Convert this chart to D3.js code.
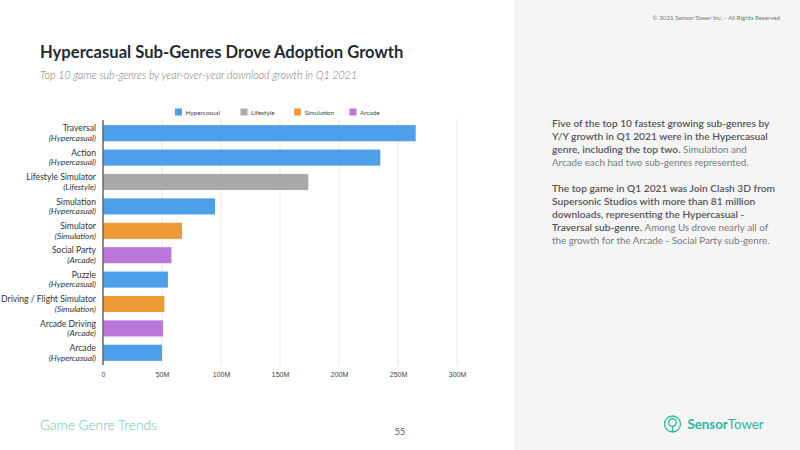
<!DOCTYPE html>
<html>
<head>
<meta charset="utf-8">
<script src="https://cdn.jsdelivr.net/npm/d3@7"></script>
<style>
  html, body { margin: 0; padding: 0; background: #fff; }
  svg { display: block; font-family: "Source Sans Pro", Lato, "Open Sans", sans-serif; }
</style>
</head>
<body>
<svg id="chart" width="800" height="450"></svg>
<script>
// sub-genres, top to bottom
const subGenres = ['Traversal', 'Action', 'Lifestyle Simulator', 'Simulation', 'Simulator',
  'Social Party', 'Puzzle', 'Driving / Flight Simulator', 'Arcade Driving', 'Arcade']
const genres = ['Hypercasual', 'Hypercasual', 'Lifestyle', 'Hypercasual', 'Simulation',
  'Arcade', 'Hypercasual', 'Simulation', 'Arcade', 'Hypercasual']
// Y/Y download growth, millions
const growth = [265, 235, 174, 95, 67, 58, 55, 52, 51, 50]
const legendGenres = ['Hypercasual', 'Lifestyle', 'Simulation', 'Arcade']
const xTicks = [0, 50, 100, 150, 200, 250, 300]

const colors = {
  Hypercasual: '#4c9fe8',
  Lifestyle: '#a9a9a9',
  Simulation: '#ee9a37',
  Arcade: '#bb77d9'
}

const data = subGenres.map((s, i) => ({ name: s, genre: genres[i], value: growth[i] }))

const svg = d3.select('#chart')

// right panel
svg.append('rect').attr('x', 514).attr('y', 0).attr('width', 286).attr('height', 450).attr('fill', '#f5f5f5')

svg.append('text')
  .attr('x', 780).attr('y', 19.5)
  .attr('text-anchor', 'end')
  .attr('font-size', 6.2)
  .attr('fill', '#777')
  .text('© 2021 Sensor Tower Inc. - All Rights Reserved')

// Title
svg.append('text')
  .attr('x', 40).attr('y', 58)
  .attr('font-size', 16.6)
  .attr('font-weight', 700)
  .attr('fill', '#1f2b33')
  .text('Hypercasual Sub-Genres Drove Adoption Growth')

svg.append('text')
  .attr('x', 40).attr('y', 79)
  .attr('font-size', 10.7)
  .attr('font-style', 'italic')
  .attr('font-weight', 300)
  .attr('fill', '#777')
  .text('Top 10 game sub-genres by year-over-year download growth in Q1 2021')

// scales
const x = d3.scaleLinear().domain([0, 300]).range([103, 457])
const y = d3.scaleBand().domain(subGenres).range([121, 365]).paddingInner(0.34).paddingOuter(0.17)

// gridlines
svg.append('g')
  .selectAll('line')
  .data(xTicks.slice(1))
  .enter()
  .append('line')
  .attr('x1', (d) => x(d)).attr('x2', (d) => x(d))
  .attr('y1', 119).attr('y2', 366)
  .attr('stroke', '#efefef')
  .attr('stroke-width', 1.5)

// x axis labels
const xAxis = d3.axisBottom(x).tickValues(xTicks).tickSize(0)
  .tickFormat((d) => (d === 0 ? '0' : d + 'M'))
svg.append('g')
  .attr('class', 'x-axis')
  .attr('transform', 'translate(0,369)')
  .call(xAxis)
  .call((g) => g.select('.domain').remove())
  .call((g) => g.selectAll('text').attr('font-size', 7).attr('fill', '#444').attr('font-family', 'inherit'))

// bars
svg.append('g')
  .selectAll('rect')
  .data(data)
  .enter()
  .append('rect')
  .attr('x', x(0))
  .attr('y', (d) => y(d.name))
  .attr('width', (d) => x(d.value) - x(0))
  .attr('height', y.bandwidth())
  .attr('fill', (d) => colors[d.genre])

// y axis line
svg.append('line')
  .attr('x1', x(0)).attr('x2', x(0))
  .attr('y1', 120).attr('y2', 365)
  .attr('stroke', '#666')
  .attr('stroke-width', 1.5)

// category labels
const labels = svg.append('g')
  .selectAll('g')
  .data(data)
  .enter()
  .append('g')
  .attr('transform', (d) => `translate(96,${y(d.name) + y.bandwidth() / 2})`)

labels.append('text')
  .attr('y', -1.8)
  .attr('text-anchor', 'end')
  .attr('font-size', 8.6)
  .attr('fill', '#333')
  .text((d) => d.name)

labels.append('text')
  .attr('y', 7.8)
  .attr('text-anchor', 'end')
  .attr('font-size', 8.4)
  .attr('font-style', 'italic')
  .attr('fill', '#333')
  .text((d) => `(${d.genre})`)

// legend
const legendX = [175, 240.5, 294, 349.5]
const legend = svg.append('g')
  .selectAll('g')
  .data(legendGenres)
  .enter()
  .append('g')
  .attr('transform', (d, i) => `translate(${legendX[i]},108.5)`)

legend.append('rect')
  .attr('width', 7).attr('height', 7)
  .attr('fill', (d) => colors[d])

legend.append('text')
  .attr('x', 10.5).attr('y', 6)
  .attr('font-size', 6.4)
  .attr('fill', '#444')
  .text((d) => d)

// commentary
const para1 = [
  [['Five of the top 10 fastest growing sub-genres by', 1]],
  [['Y/Y growth in Q1 2021 were in the Hypercasual', 1]],
  [['genre, including the top two. ', 1], ['Simulation and', 0]],
  [['Arcade each had two sub-genres represented.', 0]]
]
const para2 = [
  [['The top game in Q1 2021 was Join Clash 3D from', 1]],
  [['Supersonic Studios with more than 81 million', 1]],
  [['downloads, representing the Hypercasual -', 1]],
  [['Traversal sub-genre. ', 1], ['Among Us drove nearly all of', 0]],
  [['the growth for the Arcade - Social Party sub-genre.', 0]]
]

function drawPara(lines, top) {
  lines.forEach((parts, i) => {
    const t = svg.append('text')
      .attr('x', 552).attr('y', top + i * 13)
    parts.forEach((p) => {
      t.append('tspan')
        .attr('font-size', p[1] ? 10.2 : 9.8)
        .attr('font-weight', p[1] ? 600 : 400)
        .attr('fill', p[1] ? '#555' : '#7a7a7a')
        .text(p[0])
    })
  })
}
drawPara(para1, 126.5)
drawPara(para2, 192)

// footer
svg.append('text')
  .attr('x', 40).attr('y', 430)
  .attr('font-size', 13.7)
  .attr('font-weight', 300)
  .attr('fill', '#5cc8b2')
  .text('Game Genre Trends')

svg.append('text')
  .attr('x', 400).attr('y', 435)
  .attr('text-anchor', 'middle')
  .attr('font-size', 9)
  .attr('fill', '#555')
  .text('55')

// logo
const logo = svg.append('g').attr('transform', 'translate(672.5,424)')
logo.append('circle').attr('r', 8).attr('fill', 'none').attr('stroke', '#2db49e').attr('stroke-width', 1.3)
logo.append('circle').attr('cy', -1.5).attr('r', 3.8).attr('fill', 'none').attr('stroke', '#2db49e').attr('stroke-width', 1.3)
logo.append('line').attr('x1', 0).attr('x2', 0).attr('y1', 2.3).attr('y2', 8).attr('stroke', '#2db49e').attr('stroke-width', 1.3)

const logoText = svg.append('text')
  .attr('x', 687.5).attr('y', 429)
  .attr('font-size', 13.3)
  .attr('fill', '#2db49e')
logoText.append('tspan').attr('font-weight', 700).text('Sensor')
logoText.append('tspan').attr('font-weight', 400).text('Tower')
</script>
</body>
</html>
